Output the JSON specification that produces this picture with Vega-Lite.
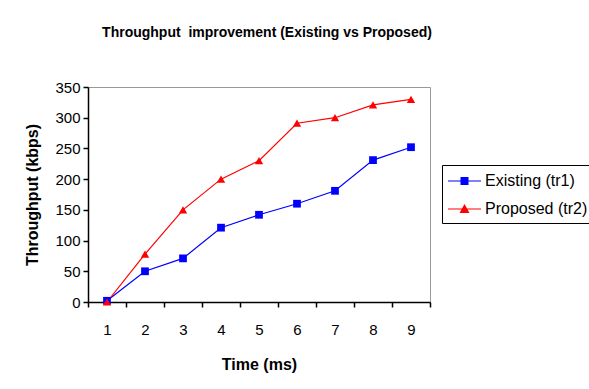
{
  "$schema": "https://vega.github.io/schema/vega-lite/v6.json",
  "width": 342,
  "height": 215,
  "autosize": {"type": "none"},
  "padding": {"left": 88, "top": 87, "right": 159, "bottom": 87},
  "background": "white",
  "config": {
    "font": "Liberation Sans",
    "view": {"stroke": "#999999", "strokeWidth": 1}
  },
  "title": {
    "text": "Throughput\u00a0 improvement (Existing vs Proposed)",
    "fontSize": 14,
    "fontWeight": "bold",
    "color": "black",
    "anchor": "middle",
    "offset": 40,
    "dx": 8
  },
  "data": {
    "values": [
      {"time": 1, "throughput": 2, "series": "Existing (tr1)"},
      {"time": 2, "throughput": 50, "series": "Existing (tr1)"},
      {"time": 3, "throughput": 71, "series": "Existing (tr1)"},
      {"time": 4, "throughput": 121, "series": "Existing (tr1)"},
      {"time": 5, "throughput": 142, "series": "Existing (tr1)"},
      {"time": 6, "throughput": 160, "series": "Existing (tr1)"},
      {"time": 7, "throughput": 181, "series": "Existing (tr1)"},
      {"time": 8, "throughput": 231, "series": "Existing (tr1)"},
      {"time": 9, "throughput": 252, "series": "Existing (tr1)"},
      {"time": 1, "throughput": 0, "series": "Proposed (tr2)"},
      {"time": 2, "throughput": 78, "series": "Proposed (tr2)"},
      {"time": 3, "throughput": 150, "series": "Proposed (tr2)"},
      {"time": 4, "throughput": 200, "series": "Proposed (tr2)"},
      {"time": 5, "throughput": 230, "series": "Proposed (tr2)"},
      {"time": 6, "throughput": 291, "series": "Proposed (tr2)"},
      {"time": 7, "throughput": 300, "series": "Proposed (tr2)"},
      {"time": 8, "throughput": 321, "series": "Proposed (tr2)"},
      {"time": 9, "throughput": 330, "series": "Proposed (tr2)"}
    ]
  },
  "encoding": {
    "x": {
      "field": "time",
      "type": "quantitative",
      "scale": {"domain": [0.5, 9.5], "nice": false, "zero": false},
      "axis": {
        "title": "Time (ms)",
        "titleFontSize": 16,
        "titleFontWeight": "bold",
        "titleColor": "black",
        "titlePadding": 19,
        "values": [0.5, 1, 1.5, 2, 2.5, 3, 3.5, 4, 4.5, 5, 5.5, 6, 6.5, 7, 7.5, 8, 8.5, 9, 9.5],
        "labelExpr": "datum.value % 1 === 0 ? '' + datum.value : ''",
        "tickOpacity": {"condition": {"test": "datum.value % 1 === 0", "value": 0}, "value": 1},
        "grid": false,
        "domainColor": "black",
        "domainWidth": 1.5,
        "tickColor": "black",
        "tickWidth": 1.5,
        "tickSize": 5,
        "labelFontSize": 15,
        "labelColor": "black",
        "labelPadding": 15,
        "labelFlush": false,
        "labelOverlap": false
      }
    },
    "y": {
      "field": "throughput",
      "type": "quantitative",
      "scale": {"domain": [0, 350], "nice": false},
      "axis": {
        "title": "Throughput (kbps)",
        "titleFontSize": 16,
        "titleFontWeight": "bold",
        "titleColor": "black",
        "titlePadding": 14,
        "values": [0, 50, 100, 150, 200, 250, 300, 350],
        "grid": false,
        "domainColor": "black",
        "domainWidth": 1.5,
        "tickColor": "black",
        "tickWidth": 1.5,
        "tickSize": 5,
        "labelFontSize": 15,
        "labelColor": "black",
        "labelPadding": 3,
        "labelFlush": false
      }
    }
  },
  "layer": [
    {
      "transform": [{"filter": "datum.series === 'Existing (tr1)'"}],
      "mark": {"type": "line", "strokeWidth": 1.2, "color": "#0000ff"}
    },
    {
      "transform": [{"filter": "datum.series === 'Proposed (tr2)'"}],
      "mark": {"type": "line", "strokeWidth": 1.2, "color": "#ff0000"}
    },
    {
      "transform": [{"filter": "datum.series === 'Existing (tr1)'"}],
      "mark": {"type": "point", "filled": true, "opacity": 1, "size": 60, "shape": "square", "color": "#0000ff"}
    },
    {
      "transform": [{"filter": "datum.series === 'Proposed (tr2)'"}],
      "mark": {"type": "point", "filled": true, "opacity": 1, "size": 70, "shape": "triangle-up", "color": "#ff0000"}
    },
    {
      "mark": {"type": "point", "filled": true, "size": 0, "opacity": 1},
      "encoding": {
        "color": {
          "field": "series",
          "type": "nominal",
          "scale": {"domain": ["Existing (tr1)", "Proposed (tr2)"], "range": ["#0000ff", "#ff0000"]},
          "legend": {
            "title": null,
            "orient": "none",
            "legendX": 354,
            "legendY": 78,
            "strokeColor": "black",
            "padding": 6,
            "labelFontSize": 16,
            "labelColor": "black",
            "labelLimit": 200,
            "labelOffset": 17,
            "symbolSize": 400,
            "symbolOpacity": 1,
            "symbolStrokeWidth": 0,
            "rowPadding": 10
          }
        },
        "shape": {
          "field": "series",
          "type": "nominal",
          "scale": {
            "domain": ["Existing (tr1)", "Proposed (tr2)"],
            "range": [
              "M-1,-0.06H2.3V0.06H-1ZM0.25,-0.4H1.05V0.4H0.25Z",
              "M-1,-0.06H2.3V0.06H-1ZM0.65,-0.5L1.15,0.4H0.15Z"
            ]
          },
          "legend": {
            "title": null,
            "orient": "none",
            "legendX": 354,
            "legendY": 78,
            "strokeColor": "black",
            "padding": 6,
            "labelFontSize": 16,
            "labelColor": "black",
            "labelLimit": 200,
            "labelOffset": 17,
            "symbolSize": 400,
            "symbolOpacity": 1,
            "symbolStrokeWidth": 0,
            "rowPadding": 10
          }
        }
      }
    }
  ]
}
